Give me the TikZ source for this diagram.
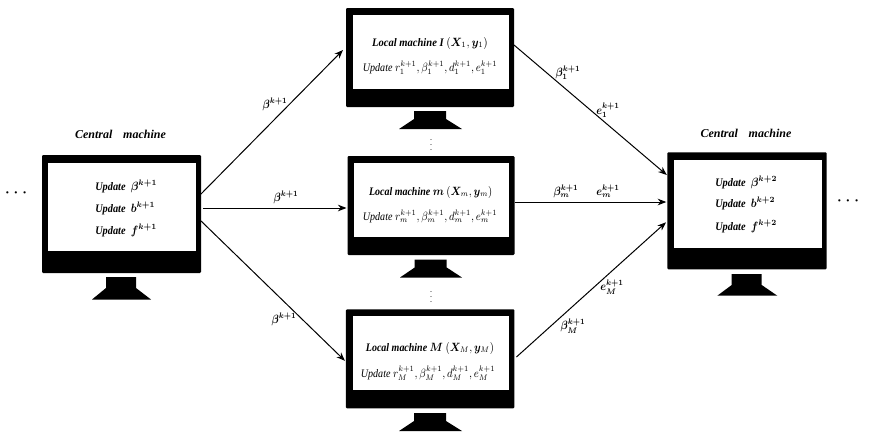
\documentclass[tikz,border=0pt]{standalone}
\usepackage{amsmath,bm,graphicx}
\usepackage{fontspec}
\setmainfont{Liberation Serif}
\usetikzlibrary{arrows.meta}
\newcommand{\bb}[1]{\bm{#1}}
\newcommand{\narrow}[2]{\scalebox{#1}[1]{#2}}
\tikzset{
  casing/.style={fill=black,draw=none,rounded corners=0.8pt,inner sep=0pt,outer sep=0pt},
  display/.style={fill=white,draw=none,inner sep=0pt,outer sep=0pt},
  flow/.style={draw=black,line width=0.75pt,-{Stealth[length=6.5pt,width=5pt]}},
  caption/.style={inner sep=0pt,font=\fontsize{9}{10}\selectfont\bfseries\itshape},
  central/.style={inner sep=0pt,anchor=west,font=\fontsize{8.6}{10}\selectfont\bfseries\itshape},
  localtitle/.style={inner sep=0pt,font=\fontsize{8.6}{10}\selectfont\bfseries\itshape},
  localupd/.style={inner sep=0pt,font=\fontsize{8.6}{10}\selectfont\itshape},
  flowlabel/.style={inner sep=0pt,font=\fontsize{9}{10}\selectfont},
  dotrow/.style={inner sep=0pt}
}
% Monitor: casing centred on (#2,#3), size #4 x #5 (px); screen rectangle #6,#7,#8,#9
\newcommand{\monitor}[9]{%
  \node[casing,minimum width=#4*0.75pt,minimum height=#5*0.75pt] (#1) at (#2,#3) {};
  \path[display] (#6,#7) rectangle (#8,#9);
}
% Stand: neck x-range #1..#2, foot x-range #3..#4, top #5, shoulder #6, bottom #7
\newcommand{\stand}[7]{%
  \fill[black] (#1,#5) -- (#2,#5) -- (#2,#6) -- (#4,#7) -- (#3,#7) -- (#1,#6) -- cycle;
}
\begin{document}
\begin{tikzpicture}[x=0.75pt,y=-0.75pt]
\useasboundingbox (0,0) rectangle (872,436);

% Left central machine
\monitor{cl}{121.5}{214}{159}{118}{48.3}{163.3}{196}{251}
\stand{106}{136}{92}{151}{277}{288}{299.5}
% Local machines
\monitor{lone}{430}{57.5}{168}{99}{352.7}{15}{509}{89}
\stand{414}{446}{399}{462}{111}{119}{129}
\monitor{lm}{431}{205.5}{167}{99}{354}{162.7}{509}{237.3}
\stand{414.7}{446.7}{400}{462}{259.5}{267.5}{277.5}
\monitor{lbig}{430.2}{358.8}{168.5}{99}{353}{316}{509}{390.3}
\stand{414}{446}{399}{462}{413}{421}{431}
% Right central machine
\monitor{cr}{747}{210.8}{159.4}{117}{673.7}{160}{821.7}{248}
\stand{731.7}{761.7}{717.3}{777.3}{274}{285}{295.7}

% Data flow
\draw[flow] ([shift={(-1,-19)}]cl.east) -- ([shift={(-3,-7.5)}]lone.west);
\draw[flow] ([shift={(2,-6)}]cl.east) -- ([shift={(-1,2.5)}]lm.west);
\draw[flow] ([shift={(-1,6)}]cl.east) -- ([shift={(-1,2)}]lbig.west);
\draw[flow] ([shift={(0,-12.5)}]lone.east) -- ([shift={(-0.5,-35.8)}]cr.west);
\draw[flow] ([shift={(0,-3.5)}]lm.east) -- ([shift={(-1,-8.8)}]cr.west);
\draw[flow] ([shift={(2,-1.8)}]lbig.east) -- ([shift={(-1.3,11.5)}]cr.west);

% Left central machine text
\node[caption] (cltitle) at (120.5,134) {Central\hspace{0.9em}machine};
\node[central] (clb) at (95,186) {\narrow{.9}{Update\hspace{0.5em}$\bb{\beta}^{\bb{k+1}}$}};
\node[central] (clc) at (95,208) {\narrow{.9}{Update\hspace{0.5em}$\bb{b}^{\bb{k+1}}$}};
\node[central] (cld) at (95,230) {\narrow{.9}{Update\hspace{0.5em}$\bb{f}^{\bb{k+1}}$}};
% Right central machine text
\node[caption] (crtitle) at (746,133.5) {Central\hspace{0.9em}machine};
\node[central] (crb) at (715,182) {\narrow{.9}{Update\hspace{0.5em}$\bb{\beta}^{\bb{k+2}}$}};
\node[central] (crc) at (715,203.5) {\narrow{.9}{Update\hspace{0.5em}$\bb{b}^{\bb{k+2}}$}};
\node[central] (crd) at (715,226) {\narrow{.9}{Update\hspace{0.5em}$\bb{f}^{\bb{k+2}}$}};

% Local machine text
\node[localtitle] (t1) at (430,43) {\narrow{.92}{Local machine I $(\bb{X}_1{,}\,\bb{y}_1)$}};
\node[localupd] (u1) at (430,68) {\narrow{.88}{Update $r_1^{k+1}{,}\,\beta_1^{k+1}{,}\,d_1^{k+1}{,}\,e_1^{k+1}$}};
\node[localtitle] (t2) at (430.7,192.3) {\narrow{.87}{Local machine $\bb{m}$ $(\bb{X}_m{,}\,\bb{y}_m)$}};
\node[localupd] (u2) at (430,216.7) {\narrow{.88}{Update $r_m^{k+1}{,}\,\beta_m^{k+1}{,}\,d_m^{k+1}{,}\,e_m^{k+1}$}};
\node[localtitle] (t3) at (430,348.3) {\narrow{.87}{Local machine $\bb{M}$ $(\bb{X}_M{,}\,\bb{y}_M)$}};
\node[localupd] (u3) at (428,373.3) {\narrow{.88}{Update $r_M^{k+1}{,}\,\beta_M^{k+1}{,}\,d_M^{k+1}{,}\,e_M^{k+1}$}};

% Flow labels
\node[flowlabel] (a1) at (275,104) {\narrow{.85}{$\bb{\beta}^{\bb{k+1}}$}};
\node[flowlabel] (a2) at (286,197) {\narrow{.85}{$\bb{\beta}^{\bb{k+1}}$}};
\node[flowlabel] (a3) at (284,319) {\narrow{.85}{$\bb{\beta}^{\bb{k+1}}$}};
\node[flowlabel] (b1) at (568,72.7) {\narrow{.85}{$\bb{\beta}_{\bb{1}}^{\bb{k+1}}$}};
\node[flowlabel] (e1) at (608,110) {\narrow{.85}{$\bb{e}_{\bb{1}}^{\bb{k+1}}$}};
\node[flowlabel] (b2) at (566,191) {\narrow{.85}{$\bb{\beta}_{\bb{m}}^{\bb{k+1}}$}};
\node[flowlabel] (e2) at (608,191) {\narrow{.85}{$\bb{e}_{\bb{m}}^{\bb{k+1}}$}};
\node[flowlabel] (b3) at (573,326) {\narrow{.85}{$\bb{\beta}_{\bb{M}}^{\bb{k+1}}$}};
\node[flowlabel] (e3) at (612,287) {\narrow{.85}{$\bb{e}_{\bb{M}}^{\bb{k+1}}$}};

% Continuation marks
\node[dotrow,font=\fontsize{11}{12}\selectfont] (dl) at (16,193) {$\bb{\cdot}$\hspace{3pt}$\bb{\cdot}$\hspace{3pt}$\bb{\cdot}$};
\node[dotrow,font=\fontsize{11}{12}\selectfont] (dr) at (848,201) {$\bb{\cdot}$\hspace{3pt}$\bb{\cdot}$\hspace{3pt}$\bb{\cdot}$};
\node[inner sep=0pt,font=\fontsize{4.5}{6}\selectfont] (v1) at (431,141) {$\bb{\vdots}$};
\node[inner sep=0pt,font=\fontsize{4.5}{6}\selectfont] (v2) at (431,293) {$\bb{\vdots}$};
\end{tikzpicture}
\end{document}
